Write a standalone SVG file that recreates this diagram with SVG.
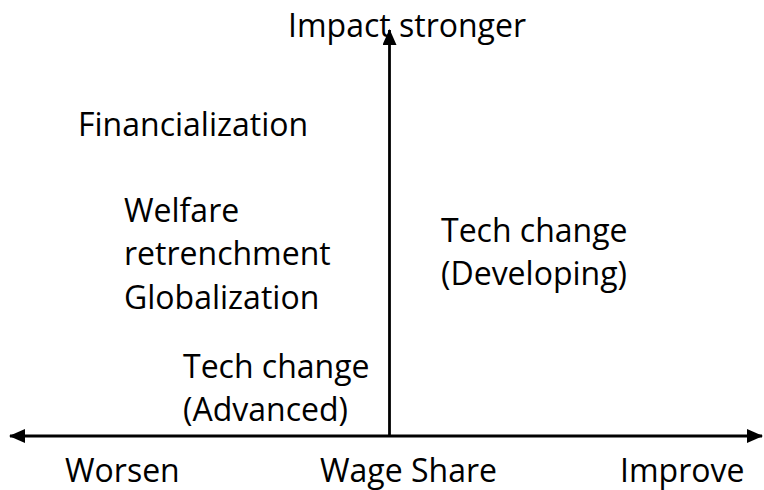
<svg xmlns="http://www.w3.org/2000/svg" width="764" height="490" viewBox="0 0 764 490">
<style>
text{font-family:"Open Sans","Liberation Sans",sans-serif;font-size:32px;fill:#000}
.ax{stroke:#000;stroke-width:2.8;fill:none}
</style>
<defs>
<marker id="ah" viewBox="0 0 16 14" refX="15" refY="7" markerWidth="16" markerHeight="14" markerUnits="userSpaceOnUse" orient="auto-start-reverse">
<path d="M0,0 L16,7 L0,14 Z" fill="#000"/>
</marker>
</defs>
<rect width="764" height="490" fill="#fff"/>
<g id="connectors">
<line class="ax" x1="10" y1="436" x2="762" y2="436" marker-start="url(#ah)" marker-end="url(#ah)"/>
<line class="ax" x1="389.5" y1="436" x2="389.5" y2="30" marker-end="url(#ah)"/>
</g>
<g id="impact"><text x="288" y="37">Impact stronger</text></g>
<g id="financialization"><text x="78" y="136">Financialization</text></g>
<g id="welfare"><text x="124" y="222">Welfare</text><text x="124" y="265">retrenchment</text><text x="124" y="309">Globalization</text></g>
<g id="tech-developing"><text x="441" y="242">Tech change</text><text x="441" y="285">(Developing)</text></g>
<g id="tech-advanced"><text x="183" y="378">Tech change</text><text x="183" y="421">(Advanced)</text></g>
<g id="worsen"><text x="65" y="482">Worsen</text></g>
<g id="wage-share"><text x="320" y="482">Wage Share</text></g>
<g id="improve"><text x="620" y="482">Improve</text></g>
</svg>
